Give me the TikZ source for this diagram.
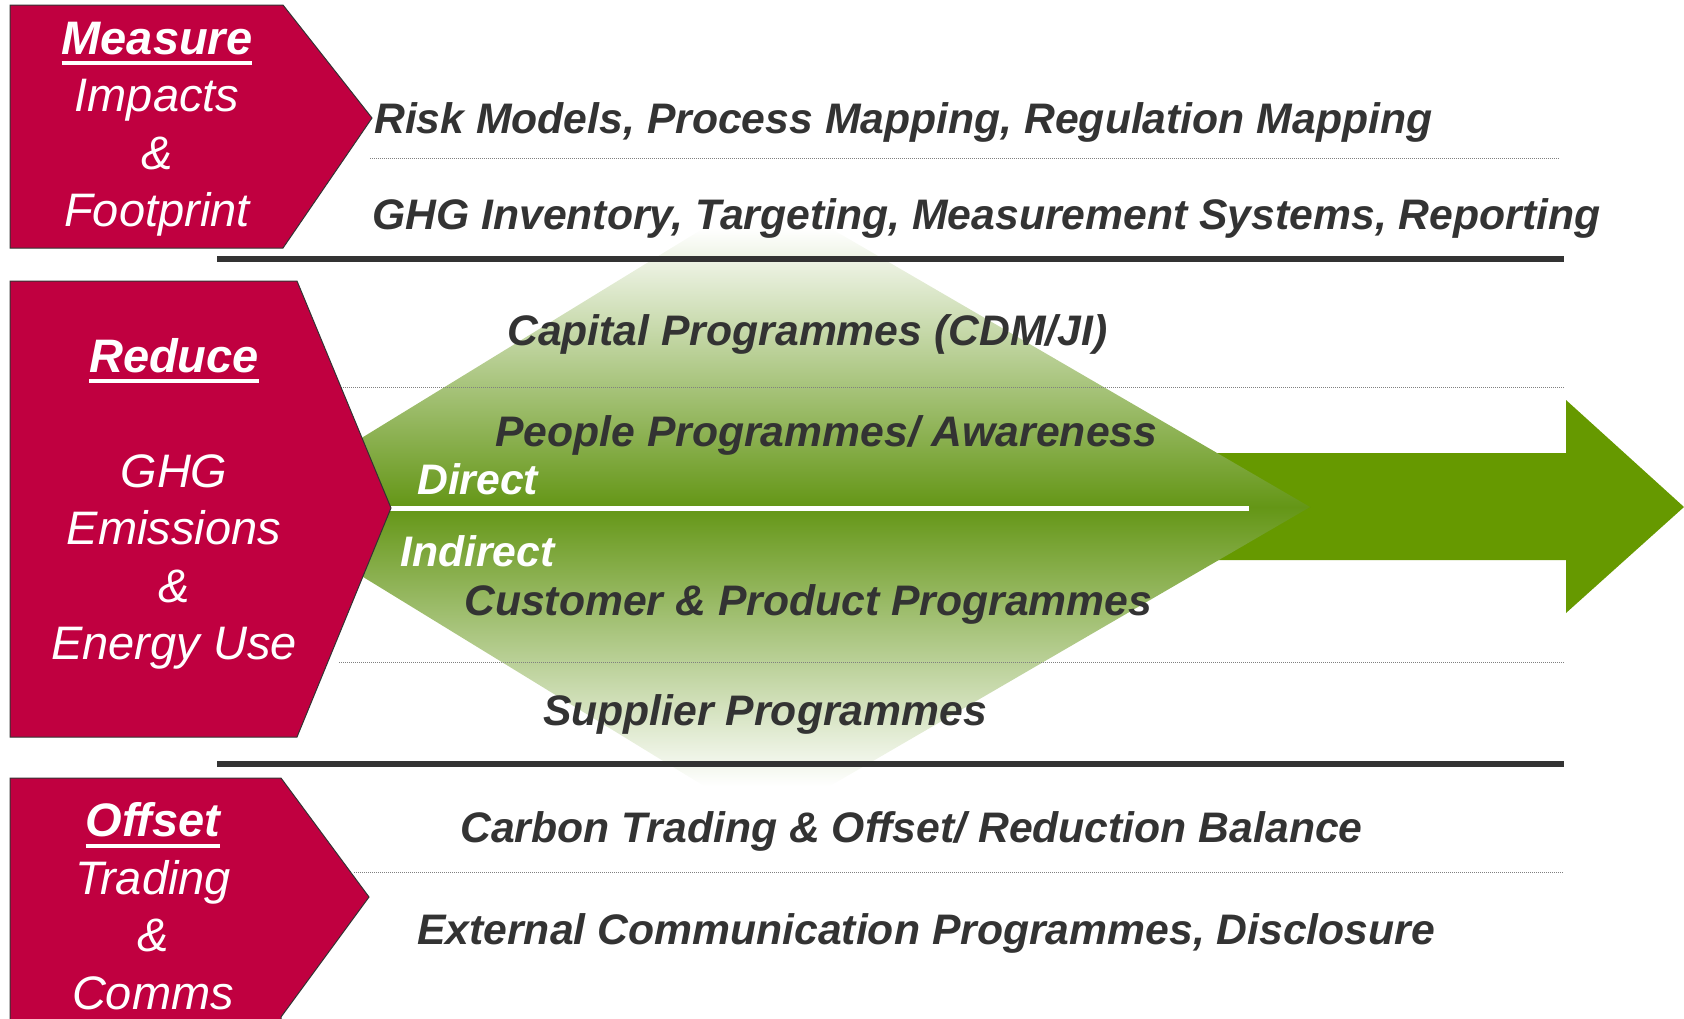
\documentclass[tikz,border=0pt]{standalone}
\usepackage{fontspec}
\setmainfont{Liberation Sans}
\usepackage{tikz}

\definecolor{stagered}{RGB}{192,0,64}
\definecolor{leafgreen}{RGB}{102,153,0}
\definecolor{wedgegreen}{RGB}{100,150,22}
\definecolor{inkgray}{RGB}{51,51,51}

% thick underline for the stage headings
\newcommand\ulword[1]{\setbox0\hbox{#1}\rlap{\rule[-11pt]{\wd0}{4pt}}\box0}

\begin{document}
\begin{tikzpicture}[x=1pt, y=-1pt]
    % Define block styles
    \tikzstyle{stage} = [draw=inkgray, line width=1, fill=stagered]
    \tikzstyle{stagetext} = [text=white, align=center, inner sep=0, font=\fontsize{47}{57.5}\selectfont\itshape]
    \tikzstyle{item} = [anchor=west, inner sep=0, text=inkgray, font=\fontsize{42.7}{50}\selectfont\bfseries\itshape]
    \tikzstyle{tag} = [item, text=white]
    \tikzstyle{rowline} = [draw=inkgray, line width=6]
    \tikzstyle{subline} = [draw=gray, line width=1, dash pattern=on 1pt off 1pt]

    \useasboundingbox (0,0) rectangle (1684,1018);

    % Big arrow
    \fill[leafgreen] (1200,453) -- (1566,453) -- (1566,400) -- (1684,507)
        -- (1566,613) -- (1566,560) -- (1200,560) -- cycle;

    % Fading wedge
    \shade[top color=white, bottom color=wedgegreen] (249,507) -- (704,228) -- (830,228) -- (1310,507) -- cycle;
    \shade[top color=wedgegreen, bottom color=white] (249,507) -- (1310,507) -- (830,786) -- (704,786) -- cycle;
    \draw[white, line width=5] (370,508) -- (1249,508);

    % Separators
    \path[subline] (370,158) -- (1560,158);
    \path[subline] (341,387) -- (1564,387);
    \path[subline] (339,662) -- (1564,662);
    \path[subline] (354,872) -- (1564,872);
    \path[rowline] (217,259) -- (1564,259);
    \path[rowline] (217,764) -- (1564,764);

    % Stages
    \path[stage] (10,5) -- (283,5) -- (372,118) -- (283,248) -- (10,248) -- cycle;
    \path[stage] (10,281) -- (297,281) -- (391,508) -- (297,737) -- (10,737) -- cycle;
    \path[stage] (10,778) -- (281,778) -- (369,897) -- (281,1017) -- (281,1030) -- (10,1030) -- cycle;

    \node[stagetext] (Measure) at (157,129) {\bfseries\ulword{Measure}\\Impacts\\\&\\Footprint};
    \node[stagetext] (Reduce) at (174,504) {\bfseries\ulword{Reduce}\\[57.5pt]GHG\\Emissions\\\&\\Energy Use};
    \node[stagetext] (Offset) at (153,906) {\bfseries\ulword{Offset}\\Trading\\\&\\Comms};

    % Nodes
    \node[item] (Risk) at (374,122) {Risk Models, Process Mapping, Regulation Mapping};
    \node[item] (GHG_Inventory) at (372,218) {GHG Inventory, Targeting, Measurement Systems, Reporting};
    \node[item] (Capital) at (507,334) {Capital Programmes (CDM/JI)};
    \node[item] (People) at (495,435) {People Programmes/ Awareness};
    \node[tag] (Direct) at (417,479) {Direct};
    \node[tag] (Indirect) at (400,551) {Indirect};
    \node[item] (Customer) at (464,604) {Customer \& Product Programmes};
    \node[item] (Supplier) at (543,714) {Supplier Programmes};
    \node[item] (Carbon) at (460,831) {Carbon Trading \& Offset/ Reduction Balance};
    \node[item] (External) at (417,933) {External Communication Programmes, Disclosure};

  \end{tikzpicture}
\end{document}
